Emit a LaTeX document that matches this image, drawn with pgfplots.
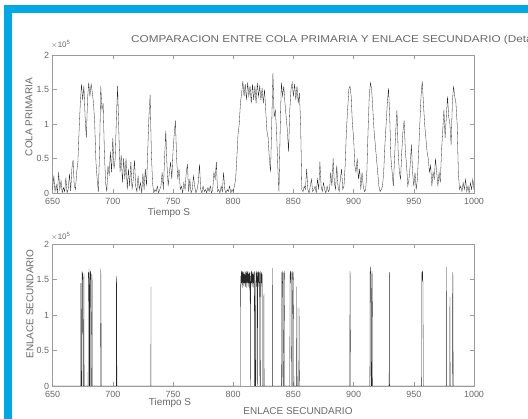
\documentclass[border=0pt]{standalone}
\usepackage{pgfplots}
\pgfplotsset{compat=1.18}
\usepackage{pgfplotstable}
\usepackage{fontspec}
\setmainfont{Liberation Sans}
\definecolor{framecyan}{RGB}{0,168,228}
\definecolor{txt}{RGB}{105,105,105}
\definecolor{axc}{RGB}{155,155,155}

\pgfplotstableread{
t q
650 0.05
651 0.25
652 0.02
653 0.12
654 0.0
655 0.3
656 0.05
657 0.18
658 0.0
659 0.08
660 0.02
661 0.22
662 0.0
663 0.06
664 0.28
665 0.03
666 0.35
667 0.48
668 0.1
669 0.05
670 0.3
671 0.45
672 0.9
673 1.3
674 1.58
675 1.35
676 1.55
677 1.1
678 0.8
679 1.35
680 1.6
681 1.4
682 1.58
683 1.45
684 1.3
685 1.0
686 0.45
687 0.2
688 0.02
689 0.6
690 1.55
691 1.2
692 1.3
693 0.6
694 0.15
695 0.02
696 0.4
697 0.25
698 0.6
699 0.3
700 0.8
701 0.35
702 0.5
703 1.1
704 1.55
705 0.9
706 0.3
707 0.55
708 0.15
709 0.5
710 0.2
711 0.5
712 0.05
713 0.35
714 0.1
715 0.45
716 0.05
717 0.2
718 0.48
719 0.1
720 0.02
721 0.25
722 0.05
723 0.15
724 0.0
725 0.28
726 0.05
727 0.35
728 0.1
729 0.6
730 1.1
731 1.42
732 0.6
733 0.15
734 0.0
735 0.05
736 0.02
737 0.1
738 0.0
739 0.05
740 0.1
741 0.3
742 0.05
743 0.5
744 0.9
745 0.4
746 0.1
747 0.3
748 0.45
749 0.2
750 0.6
751 0.85
752 1.05
753 0.5
754 0.2
755 0.35
756 0.05
757 0.1
758 0.0
759 0.15
760 0.05
761 0.3
762 0.42
763 0.02
764 0.2
765 0.0
766 0.05
767 0.25
768 0.1
769 0.0
770 0.05
771 0.15
772 0.42
773 0.05
774 0.0
775 0.1
776 0.02
777 0.05
778 0.0
779 0.08
780 0.02
781 0.1
782 0.0
783 0.05
784 0.3
785 0.2
786 0.45
787 0.02
788 0.05
789 0.0
790 0.1
791 0.02
792 0.3
793 0.05
794 0.0
795 0.05
796 0.02
797 0.1
798 0.0
799 0.05
800 0.02
801 0.1
802 0.2
803 0.5
804 0.85
805 1.0
806 1.3
807 1.45
808 1.62
809 1.4
810 1.58
811 1.35
812 1.6
813 1.4
814 1.55
815 1.3
816 1.58
817 1.35
818 1.55
819 1.3
820 1.6
821 1.4
822 1.55
823 1.35
824 1.52
825 1.3
826 1.5
827 1.2
828 0.9
829 0.8
830 0.5
831 0.3
832 1.0
833 1.74
834 1.1
835 1.2
836 0.9
837 0.4
838 0.02
839 0.9
840 1.6
841 1.4
842 1.55
843 1.3
844 1.1
845 0.9
846 0.6
847 1.2
848 1.5
849 1.6
850 1.4
851 1.58
852 1.35
853 1.55
854 1.3
855 1.45
856 1.0
857 0.05
858 0.02
859 0.1
860 0.05
861 0.35
862 0.05
863 0.0
864 0.1
865 0.2
866 0.02
867 0.05
868 0.1
869 0.0
870 0.2
871 0.05
872 0.45
873 0.1
874 0.02
875 0.15
876 0.05
877 0.0
878 0.1
879 0.02
880 0.05
881 0.3
882 0.1
883 0.5
884 0.15
885 0.05
886 0.4
887 0.1
888 0.02
889 0.2
890 0.35
891 0.05
892 0.1
893 0.4
894 0.9
895 1.2
896 1.5
897 1.55
898 1.4
899 1.0
900 0.8
901 0.4
902 0.3
903 0.5
904 0.2
905 0.35
906 0.05
907 0.3
908 0.1
909 0.02
910 0.05
911 0.3
912 0.9
913 1.4
914 1.6
915 1.5
916 1.2
917 0.9
918 0.7
919 0.5
920 0.3
921 0.1
922 0.02
923 0.05
924 0.1
925 0.3
926 0.7
927 1.0
928 1.3
929 1.52
930 1.1
931 0.5
932 0.3
933 0.1
934 0.5
935 0.9
936 1.2
937 0.6
938 0.3
939 0.2
940 0.6
941 0.9
942 1.05
943 0.6
944 0.4
945 0.1
946 0.2
947 0.4
948 0.7
949 0.3
950 0.1
951 0.3
952 0.05
953 0.2
954 0.6
955 1.0
956 1.4
957 1.62
958 1.3
959 1.0
960 0.8
961 0.6
962 0.5
963 0.3
964 0.4
965 0.1
966 0.3
967 0.2
968 0.5
969 0.3
970 0.1
971 0.3
972 0.15
973 0.6
974 0.9
975 1.2
976 0.8
977 1.1
978 1.4
979 1.1
980 1.0
981 0.7
982 1.3
983 1.55
984 1.4
985 1.3
986 1.0
987 0.3
988 0.05
989 0.1
990 0.02
991 0.15
992 0.05
993 0.2
994 0.02
995 0.1
996 0.0
997 0.15
998 0.05
999 0.2
1000 0.05
}\cola

\pgfplotsset{matlab/.style={
  scale only axis, width=421.4bp,
  xmin=650, xmax=1000, ymin=0, ymax=2,
  xtick={650,700,...,1000}, ytick={0,0.5,1,1.5,2},
  tick align=inside, major tick length=4bp,
  axis line style={axc, line width=0.5pt},
  every tick/.style={axc, line width=0.4pt},
  ticklabel style={font=\fontsize{9}{10}\selectfont, text=txt},
  xticklabel style={yshift=-1.5bp},
  /pgf/number format/assume math mode=true,
  /pgf/number format/set thousands separator={},
  scaled y ticks=false,
  clip=true,
}}

\begin{document}
\begin{tikzpicture}
\useasboundingbox (0,0) rectangle (528bp,419bp);
\fill[white] (0,0) rectangle (528bp,419bp);
\fill[framecyan] (4bp,0) rectangle (12bp,414bp);
\fill[framecyan] (4bp,406bp) rectangle (528bp,414bp);

\begin{axis}[matlab, height=138bp, at={(52.6bp,226bp)}, anchor=south west]
\addplot[black!85, line width=0.3pt] table[x=t,y=q] {\cola};
\end{axis}

\begin{axis}[matlab, height=142bp, at={(52.6bp,33bp)}, anchor=south west]
\addplot[black!85, line width=0.3pt] coordinates {
(650,0)(673.3,0)(673.5,1.45)(673.7,0)(674.2,0)(674.4,1.62)(674.7,1.5)(675,1.6)(675.3,0)(675.8,0)(676,1.58)(676.2,0)
(679.5,0)(679.7,1.6)(680,1.52)(680.3,1.65)(680.5,0)(680.8,0)(681,1.6)(681.3,1.5)(681.6,1.62)(681.8,0)(682.3,0)(682.5,1.58)(682.8,1.55)(683,0)
(689.8,0)(690,1.65)(690.2,1.5)(690.4,0)
(702.8,0)(703,1.55)(703.2,1.5)(703.4,0)
(731.6,0)(731.7,1.4)(731.8,0)
(806,0)(806.2,1.55)(806.5,1.4)(806.8,1.62)(807.1,1.45)(807.4,1.6)(807.7,1.38)(808,1.62)(808.3,1.45)(808.6,1.6)(808.9,1.4)(809.2,1.58)(809.5,1.45)(809.8,1.62)(810.1,1.4)(810.4,1.6)(810.7,1.45)(811,1.62)(811.3,1.38)(811.6,1.6)(811.9,1.45)(812.2,1.62)(812.5,1.4)(812.8,1.58)(813.1,1.45)(813.4,1.6)(813.7,1.35)(814,1.6)(814.3,0)(814.5,1.55)(814.8,1.4)(815.1,1.62)(815.4,1.45)(815.7,1.6)(816,1.4)(816.3,1.58)(816.6,1.45)(816.9,1.6)(817.2,1.38)(817.5,1.62)(817.8,0)(818.1,1.6)(818.4,0)(818.8,0)(819,1.45)(819.3,1.62)(819.6,1.4)(819.9,1.6)(820.1,0)(820.4,1.5)(820.7,1.62)(821,1.4)(821.3,1.6)(821.6,1.45)(821.9,1.6)(822.2,0)(822.6,0)(822.8,1.62)(823.1,1.45)(823.4,1.6)(823.7,1.4)(824,1.58)(824.2,0)(825.3,0)(825.5,1.3)(825.7,0)
(832.4,0)(832.5,1.66)(832.6,0)
(840.2,0)(840.4,1.6)(840.7,1.45)(841,1.62)(841.3,0)(841.8,0)(842,1.6)(842.3,1.5)(842.6,1.62)(842.9,0)
(847,0)(847.2,1.55)(847.5,1.62)(847.8,1.45)(848.1,1.6)(848.4,0)(849,0)(849.2,1.62)(849.5,1.5)(849.8,1.6)(850.1,1.45)(850.4,0)
(852.6,0)(852.8,1.4)(853.1,0)(854.5,0)(854.7,1.1)(855,0)
(896.8,0)(897,1.62)(897.2,1.55)(897.4,0)
(913.5,0)(913.7,1.6)(914,1.68)(914.3,1.5)(914.6,0)(915,0)(915.2,1.62)(915.5,1.55)(915.8,0)
(929.5,0)(929.7,1.6)(929.9,0)
(956.5,0)(956.7,1.6)(957,1.5)(957.3,1.62)(957.6,1.45)(957.9,0)
(977.2,0)(977.3,1.68)(977.4,0)(979.8,0)(980,1.25)(980.2,0)
(982.1,0)(982.3,1.6)(982.5,1.55)(982.7,0)
(1000,0)
};
\end{axis}

% texts
\node[anchor=west, text=txt, inner sep=0pt] at (131bp,379bp)
  {\scalebox{1.18}[1]{\fontsize{10}{12}\selectfont COMPARACION ENTRE COLA PRIMARIA Y ENLACE SECUNDARIO (Detalle)}};
\node[anchor=west, text=txt, inner sep=0pt, font=\fontsize{8}{9}\selectfont] at (51bp,375bp) {$\times$10\textsuperscript{5}};
\node[anchor=west, text=txt, inner sep=0pt, font=\fontsize{8}{9}\selectfont] at (51bp,183bp) {$\times$10\textsuperscript{5}};
\node[text=txt, inner sep=0pt, rotate=90, font=\fontsize{10}{12}\selectfont] at (29bp,302bp) {COLA PRIMARIA};
\node[text=txt, inner sep=0pt, rotate=90, font=\fontsize{10}{12}\selectfont] at (30bp,115bp) {ENLACE SECUNDARIO};
\node[text=txt, inner sep=0pt, font=\fontsize{10}{12}\selectfont] at (169bp,206bp) {Tiempo S};
\node[text=txt, inner sep=0pt, font=\fontsize{10}{12}\selectfont] at (170bp,16bp) {Tiempo S};
\node[text=txt, inner sep=0pt, font=\fontsize{10}{12}\selectfont] at (298bp,8bp) {ENLACE SECUNDARIO};
\end{tikzpicture}
\end{document}
